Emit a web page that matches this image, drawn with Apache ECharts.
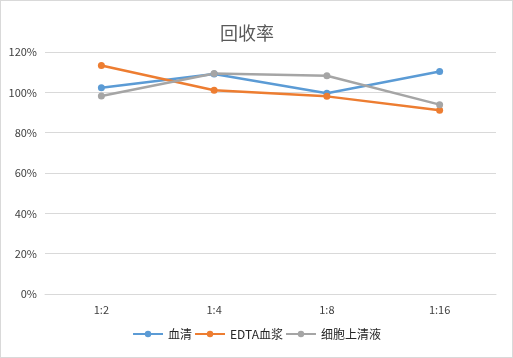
<!DOCTYPE html>
<html><head><meta charset="utf-8">
<script src="https://cdn.jsdelivr.net/npm/echarts@6/dist/echarts.min.js"></script>
<style>html,body{margin:0;padding:0;background:#fff}#c{width:513px;height:358px;box-sizing:border-box;border:1px solid #d9d9d9}</style>
</head><body><div id="c"></div>
<script>
var categories = ['1:2', '1:4', '1:8', '1:16'];
var serum = [1.023, 1.091, 0.995, 1.103];
var edta = [1.133, 1.010, 0.980, 0.911];
var supernatant = [0.982, 1.093, 1.082, 0.939];
var seriesNames = ['血清', 'EDTA血浆', '细胞上清液'];
var colors = ['#5b9bd5', '#ed7d31', '#a5a5a5'];
var yTicks = [0, 0.2, 0.4, 0.6, 0.8, 1.0, 1.2];

var chart = echarts.init(document.getElementById('c'));
var font = '"Microsoft YaHei","Noto Sans CJK SC",sans-serif';
function mk(name, data, color) {
  return {
    name: name, type: 'line', data: data, symbol: 'circle', symbolSize: 7,
    itemStyle: {color: color}, lineStyle: {color: color, width: 2.5}
  };
}
chart.setOption({
  animation: false,
  title: {text: '回收率', left: 214, top: 18, textStyle: {fontFamily: font, fontSize: 18, fontWeight: 'normal', color: '#595959'}},
  grid: {left: 44, right: 16, top: 51, bottom: 63},
  legend: {bottom: 12, left: 'center', itemWidth: 30, itemHeight: 8, itemGap: 2,
    textStyle: {fontFamily: font, fontSize: 12, color: '#262626'},
    data: seriesNames},
  xAxis: {type: 'category', data: categories, boundaryGap: true,
    axisLine: {lineStyle: {color: '#d9d9d9'}}, axisTick: {show: false},
    axisLabel: {color: '#404040', fontSize: 11, fontFamily: font, margin: 10}},
  yAxis: {type: 'value', min: 0, max: 1.2, interval: 0.2,
    axisLine: {show: false}, axisTick: {show: false},
    splitLine: {lineStyle: {color: '#d9d9d9'}},
    axisLabel: {color: '#404040', fontSize: 11, fontFamily: font, margin: 8,
      formatter: function (v) { return Math.round(v * 100) + '%'; }}},
  series: [mk(seriesNames[0], serum, colors[0]), mk(seriesNames[1], edta, colors[1]), mk(seriesNames[2], supernatant, colors[2])]
});
</script></body></html>
